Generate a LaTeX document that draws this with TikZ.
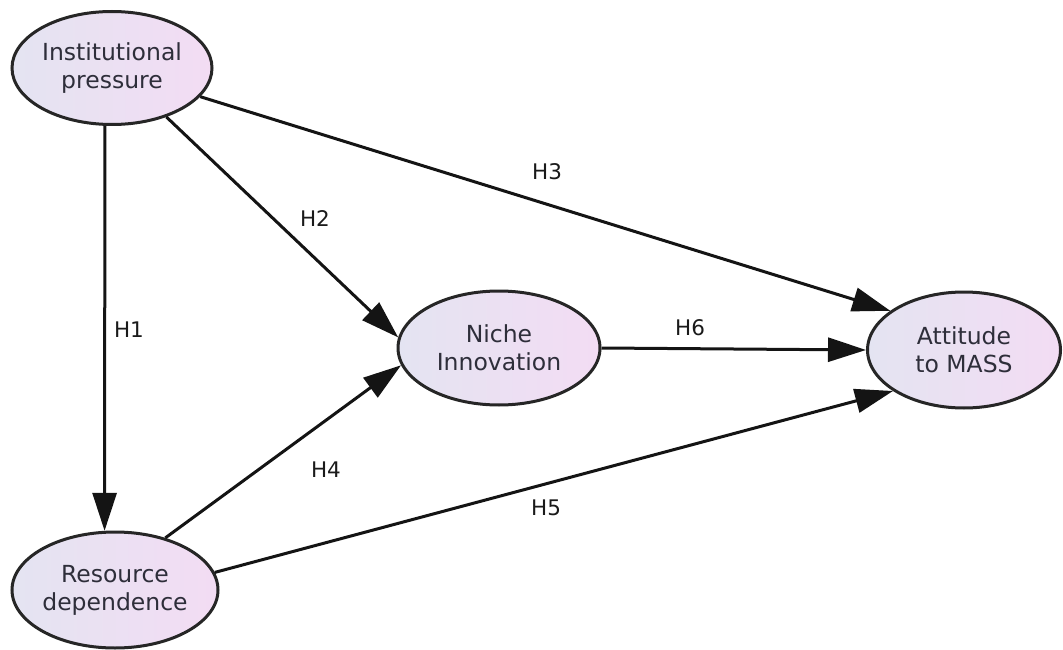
\documentclass[tikz,border=0pt]{standalone}
\usepackage{fontspec}
\setmainfont{DejaVu Sans}
\usetikzlibrary{shapes.geometric,arrows.meta}
\definecolor{ellborder}{HTML}{262626}
\definecolor{fillL}{HTML}{E4E4F2}
\definecolor{fillR}{HTML}{F3DCF3}
\definecolor{nodetext}{HTML}{2E2E3A}
\definecolor{labtext}{HTML}{1A1A1A}
\tikzset{
  construct/.style={ellipse, draw=ellborder, line width=3pt, left color=fillL, right color=fillR,
    inner sep=0pt, align=center, text=nodetext, font=\fontsize{23.5}{28}\selectfont},
  path/.style={line width=3pt, draw=black!92, -{Triangle[length=38pt,width=24pt]}},
  hyp/.style={text=labtext, font=\fontsize{21.5}{25}\selectfont, inner sep=0pt}
}
\begin{document}
\begin{tikzpicture}[x=1pt,y=-1pt]
\useasboundingbox (0,0) rectangle (1063,650);
\node[construct, minimum width=200pt, minimum height=113pt] (ip) at (112,68) {Institutional\\pressure};
\node[construct, minimum width=202pt, minimum height=114pt] (ni) at (499,348) {Niche\\Innovation};
\node[construct, minimum width=193pt, minimum height=116pt] (am) at (964,350) {Attitude\\to MASS};
\node[construct, minimum width=206pt, minimum height=116pt] (rd) at (115,590) {Resource\\dependence};

\draw[path] (ip.263) -- (rd.100);
\draw[path] (ip.-42) -- (ni.174);
\draw[path] (ip.-18) -- (am.152);
\draw[path] (rd.46) -- (ni.190);
\draw[path] (rd.10) -- (am.210);
\draw[path] (ni.0) -- (am.180);

\node[hyp] (h1) at (129,330) {H1};
\node[hyp] (h2) at (315,219) {H2};
\node[hyp] (h3) at (547,172) {H3};
\node[hyp] (h4) at (326,470) {H4};
\node[hyp] (h5) at (546,508) {H5};
\node[hyp] (h6) at (690,328) {H6};
\end{tikzpicture}
\end{document}
